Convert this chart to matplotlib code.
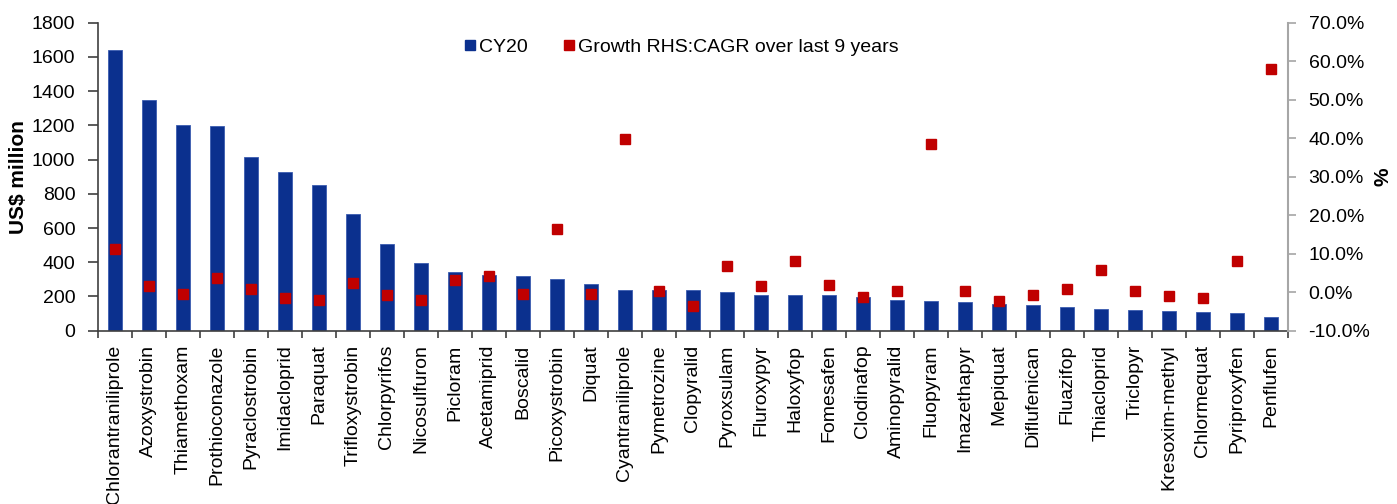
import matplotlib
matplotlib.use("Agg")
import matplotlib.pyplot as plt
from matplotlib.lines import Line2D
from matplotlib.ticker import FuncFormatter, FixedLocator

plt.rcParams['font.family'] = ['Liberation Sans', 'DejaVu Sans']

products = ["Chlorantraniliprole", "Azoxystrobin", "Thiamethoxam", "Prothioconazole",
            "Pyraclostrobin", "Imidacloprid", "Paraquat", "Trifloxystrobin", "Chlorpyrifos",
            "Nicosulfuron", "Picloram", "Acetamiprid", "Boscalid", "Picoxystrobin", "Diquat",
            "Cyantraniliprole", "Pymetrozine", "Clopyralid", "Pyroxsulam", "Fluroxypyr",
            "Haloxyfop", "Fomesafen", "Clodinafop", "Aminopyralid", "Fluopyram", "Imazethapyr",
            "Mepiquat", "Diflufenican", "Fluazifop", "Thiacloprid", "Triclopyr",
            "Kresoxim-methyl", "Chlormequat", "Pyriproxyfen", "Penflufen"]

# CY20 sales, US$ million
sales_cy20 = [1642, 1350, 1200, 1194, 1013, 926, 850, 681, 506, 396, 346, 326, 321, 304,
              275, 240, 236, 236, 226, 210, 209, 209, 195, 179, 175, 165, 156, 150, 139,
              125, 123, 113, 109, 101, 78]

# CAGR over last 9 years, %
cagr_pct = [11.3, 1.6, -0.4, 3.7, 0.9, -1.6, -1.9, 2.5, -0.6, -1.9, 3.3, 4.3, -0.4, 16.5,
            -0.4, 39.7, 0.2, -3.6, 6.9, 1.7, 8.2, 2.0, -1.3, 0.2, 38.6, 0.4, -2.2, -0.6,
            0.9, 5.9, 0.2, -1.1, -1.4, 8.0, 58.1]

blue = "#0B308E"
red = "#C00000"

fig = plt.figure(figsize=(13.97, 5.04), dpi=100)
ax = fig.add_axes([0.0699, 0.3438, 0.8519, 0.6112])
x = list(range(len(products)))
ax.bar(x, sales_cy20, width=0.41, color=blue, edgecolor="#3a5cb0", linewidth=0.6)
ax.set_xlim(-0.5, len(products) - 0.5)
ax.set_ylim(0, 1800)
ax.set_yticks(range(0, 1801, 200))
ax.set_xticks(x)
ax.set_xticklabels(products, rotation=90, fontsize=14)
ax.xaxis.set_minor_locator(FixedLocator([i - 0.5 for i in range(len(products) + 1)]))
ax.tick_params(axis='x', which='major', length=0, pad=10)
ax.tick_params(axis='x', which='minor', length=5, width=1.2, color="#404040", direction='out')
ax.tick_params(axis='y', labelsize=14, length=7, width=1.2, color="#404040", pad=9)
ax.set_ylabel("US$ million", fontsize=15, fontweight='bold', labelpad=3)
for s in ['top', 'right']:
    ax.spines[s].set_visible(False)
ax.spines['left'].set_color("#404040")
ax.spines['bottom'].set_color("#404040")
ax.spines['left'].set_linewidth(1.2)
ax.spines['bottom'].set_linewidth(1.2)

ax2 = ax.twinx()
ax2.plot(x, cagr_pct, linestyle='none', marker='s', markersize=6.5, color=red)
ax2.set_ylim(-10, 70)
ax2.set_yticks(range(-10, 71, 10))
ax2.yaxis.set_major_formatter(FuncFormatter(lambda v, p: f"{v:.1f}%"))
ax2.tick_params(axis='y', labelsize=14, length=6, width=1.2, color="#A6A6A6", pad=9)
ax2.set_ylabel("%", fontsize=15, fontweight='bold', labelpad=2)
for s in ['top', 'left', 'bottom']:
    ax2.spines[s].set_visible(False)
ax2.spines['right'].set_color("#A6A6A6")
ax2.spines['right'].set_linewidth(1.5)

handles = [Line2D([], [], linestyle='none', marker='s', markersize=7.5, color=blue),
           Line2D([], [], linestyle='none', marker='s', markersize=6.5, color=red)]
ax2.legend(handles, ["CY20", "Growth RHS:CAGR over last 9 years"], ncol=2, frameon=False,
           loc='center left', bbox_to_anchor=(0.308, 0.92), fontsize=14,
           handlelength=0.6, handletextpad=0.15, columnspacing=1.85, borderpad=0,
           borderaxespad=0)

fig.savefig("out.png", dpi=100)
